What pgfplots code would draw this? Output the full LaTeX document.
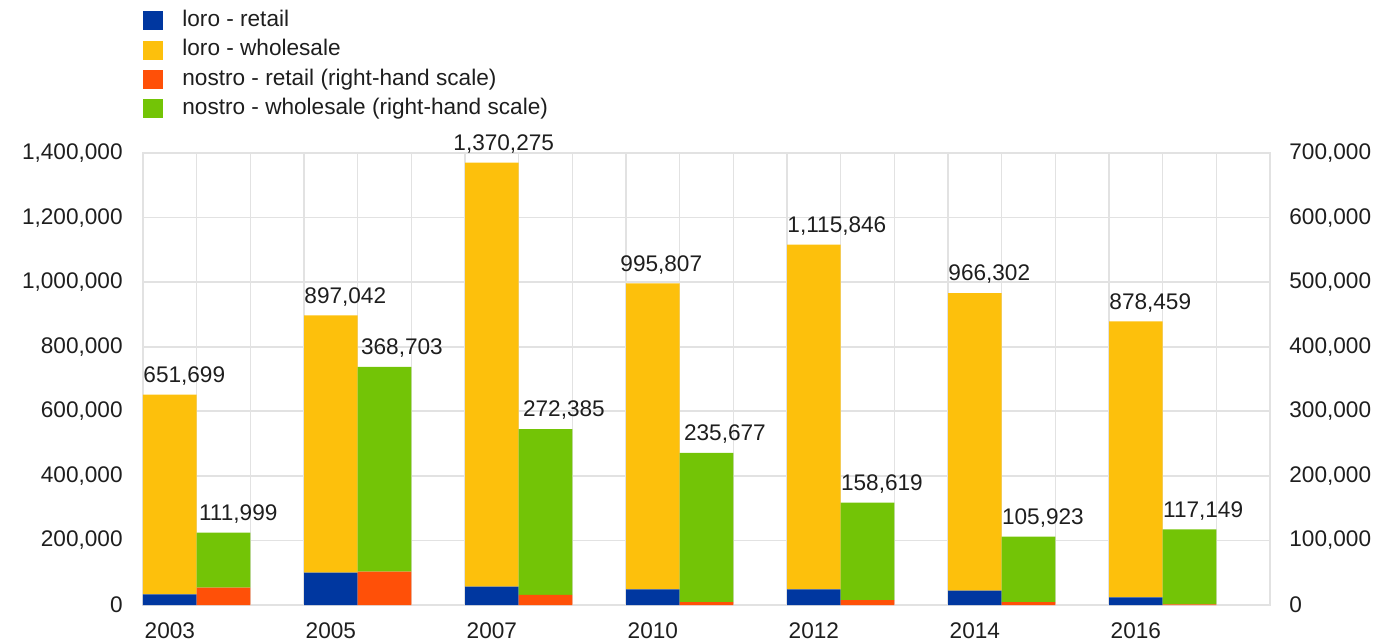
\documentclass[border=0pt]{standalone}
\usepackage{pgfplots}
\pgfplotsset{compat=1.18}
\usepackage{pgfplotstable}
\usepackage{fontspec}
\setmainfont{Liberation Sans}
\usetikzlibrary{calc}

\definecolor{cBlue}{HTML}{0037A0}
\definecolor{cYellow}{HTML}{FDC00C}
\definecolor{cRed}{HTML}{FF5008}
\definecolor{cGreen}{HTML}{73C406}
\definecolor{cGrid}{HTML}{E2E2E2}
\definecolor{cText}{HTML}{1E1E1E}

% loro (left-hand scale): bars at slot 3k+0.5; dx = label offset in pt
\pgfplotstableread{
x    retail  wholesale total   dx
0.5  33000   618699    651699  0
3.5  100000  797042    897042  0
6.5  56800   1313475   1370275 -6
9.5  48600   947207    995807  -3
12.5 48600   1067246   1115846 0
15.5 44400   921902    966302  0
18.5 23800   854659    878459  0
}\loro

% nostro (right-hand scale): bars at slot 3k+1.5
\pgfplotstableread{
x    retail  wholesale total  dx
1.5  26800   85199     111999 1
4.5  51600   317103    368703 1.5
7.5  15500   256885    272385 2
10.5 4600    231077    235677 2
13.5 7700    150919    158619 0
16.5 4600    101323    105923 0
19.5 800     116349    117149 0
}\nostro

\pgfplotsset{
  /pgf/number format/.cd, fixed, precision=0, 1000 sep={,}, assume math mode=true,
  /pgfplots/.cd,
  sq/.style={legend image code/.code={\fill[##1] (0pt,-4.75pt) rectangle (10pt,4.75pt);}},
  geom/.style={
    scale only axis, width=563.5pt, height=226pt,
    xmin=0, xmax=21, ymin=0,
    bar width=1,
    font=\fontsize{11.3}{13.5}\selectfont,
    text=cText,
    scaled y ticks=false,
    major tick length=0pt, minor tick length=0pt,
  },
  base/.style={geom, ybar stacked,
    axis line style={draw=cGrid, line width=0.8pt},
  },
  lab/.style={geom, ybar, bar shift=0pt, hide axis,
    nodes near coords,
    visualization depends on={\thisrow{dx} \as \labdx},
    every node near coord/.append style={font=\fontsize{11.3}{13.5}\selectfont, text=cText,
        anchor=south west, xshift=-13.4pt, xshift=\labdx pt, inner sep=0pt, yshift=4.5pt},
  },
}

\begin{document}
\begin{tikzpicture}
\begin{axis}[base, name=ax,
  ymax=1400000, ytick={0,200000,...,1400000},
  xtick={0.5,3.5,...,18.5},
  xticklabels={2003,2005,2007,2010,2012,2014,2016},
  minor xtick={0,1,...,21},
  xminorgrids, ymajorgrids,
  grid style={draw=cGrid, line width=0.8pt},
  yticklabel style={anchor=east, inner sep=0pt, xshift=-10pt},
  xticklabel style={anchor=north, inner sep=0pt, text height=8.1pt, text depth=0pt, yshift=-8.5pt},
  legend style={at={(0,1)}, anchor=north west, xshift=0pt, yshift=71.5pt,
    draw=none, fill=none, inner sep=0pt, row sep=4.1pt,
    nodes={inner sep=0pt, text height=8.2pt, text depth=2.3pt, font=\fontsize{11.3}{13.5}\selectfont, text=cText}},
  legend cell align=left,
]
\addplot[sq, fill=cBlue, draw=none] table[x=x, y=retail] {\loro};
\addplot[sq, fill=cYellow, draw=none] table[x=x, y=wholesale] {\loro};
\addlegendimage{sq, fill=cRed, draw=none}
\addlegendimage{sq, fill=cGreen, draw=none}
\legend{\hspace{9.5pt}loro - retail, \hspace{9.5pt}loro - wholesale, \hspace{9.5pt}nostro - retail (right-hand scale), \hspace{9.5pt}nostro - wholesale (right-hand scale)}
\end{axis}

\begin{axis}[base,
  ymax=700000, ytick={0,100000,...,700000},
  axis y line*=right, axis x line=none,
  yticklabel style={anchor=west, inner sep=0pt, xshift=9.5pt},
]
\addplot[fill=cRed, draw=none] table[x=x, y=retail] {\nostro};
\addplot[fill=cGreen, draw=none] table[x=x, y=wholesale] {\nostro};
\end{axis}

% data labels (totals) on the left-hand scale
\begin{axis}[lab, ymax=1400000]
\addplot[draw=none, fill=none] table[x=x, y=total] {\loro};
\end{axis}
% data labels (totals) on the right-hand scale
\begin{axis}[lab, ymax=700000]
\addplot[draw=none, fill=none] table[x=x, y=total] {\nostro};
\end{axis}

\pgfresetboundingbox
\path ($(ax.south west)+(-71.5pt,-18pt)$) rectangle ($(ax.north east)+(53.5pt,76.5pt)$);
\end{tikzpicture}
\end{document}
